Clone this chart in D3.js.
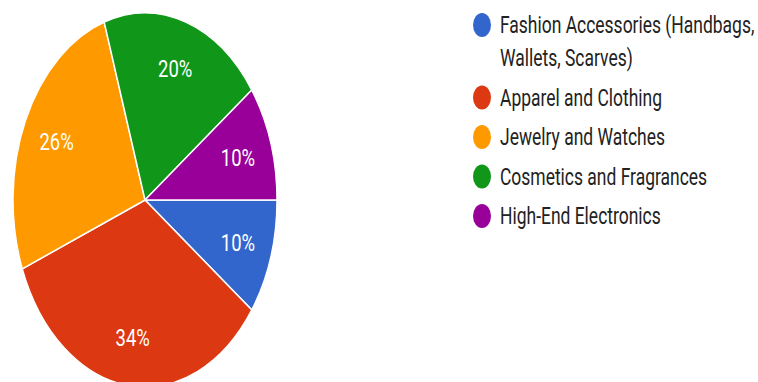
<!DOCTYPE html>
<html>
<head>
<meta charset="utf-8">
<script src="https://cdn.jsdelivr.net/npm/d3@7"></script>
<style>
  body { margin: 0; background: #fff; }
  svg { display: block; font-family: Roboto, Arial, sans-serif; }
</style>
</head>
<body>
<div id="chart"></div>
<script>
const categories = [
    "Fashion Accessories (Handbags, Wallets, Scarves)",
    "Apparel and Clothing",
    "Jewelry and Watches",
    "Cosmetics and Fragrances",
    "High-End Electronics"
];
const values = [10, 34, 26, 20, 10];
const colors = ["#3366cc", "#dc3912", "#ff9900", "#109618", "#990099"];

const width = 758, height = 382;
// the reference is squeezed horizontally
const sx = 0.706;
const cx = 145, cy = 200, r = 187;

const svg = d3.select("#chart").append("svg")
    .attr("width", width)
    .attr("height", height);

const data = categories.map((c, i) => ({ name: c, value: values[i], color: colors[i] }));

const pie = d3.pie()
    .value(d => d.value)
    .sort(null)
    .startAngle(Math.PI / 2)
    .endAngle(Math.PI / 2 + 2 * Math.PI);

const arcs = pie(data);
const total = d3.sum(values);

const arc = d3.arc().innerRadius(0).outerRadius(r);
const labelArc = d3.arc().innerRadius(r * 0.74).outerRadius(r * 0.74);

const g = svg.append("g")
    .attr("transform", `translate(${cx},${cy}) scale(${sx},1)`);

g.selectAll("path")
    .data(arcs)
    .enter()
    .append("path")
    .attr("d", arc)
    .attr("fill", d => d.data.color)
    .attr("stroke", "#fff")
    .attr("stroke-width", 1.5)
    .attr("vector-effect", "non-scaling-stroke");

g.selectAll("text.lbl")
    .data(arcs)
    .enter()
    .append("text")
    .attr("class", "lbl")
    .attr("transform", d => `translate(${labelArc.centroid(d)}) scale(1.09,1)`)
    .attr("text-anchor", "middle")
    .attr("dy", "0.36em")
    .attr("fill", "#fff")
    .attr("font-size", "24px")
    .text(d => Math.round(d.data.value / total * 100) + "%");

// legend
const legX = 482, textX = 500;
const textSx = 0.76;
const lineH = 33, itemGap = 39.5;
const maxW = 262;

const legend = svg.append("g");
let y = 25;

data.forEach(d => {
    const item = legend.append("g");
    item.append("ellipse")
        .attr("cx", legX)
        .attr("cy", y)
        .attr("rx", 9)
        .attr("ry", 12)
        .attr("fill", d.color);

    const t = item.append("text")
        .attr("transform", `translate(${textX},${y + 8}) scale(${textSx},1)`)
        .attr("font-size", "23px")
        .attr("fill", "#222");

    // wrap words
    const words = d.name.split(" ");
    let line = [];
    let lineNo = 0;
    let tspan = t.append("tspan").attr("x", 0).attr("y", 0);
    words.forEach(w => {
        line.push(w);
        tspan.text(line.join(" "));
        if (tspan.node().getComputedTextLength() * textSx > maxW && line.length > 1) {
            line.pop();
            tspan.text(line.join(" "));
            line = [w];
            lineNo++;
            tspan = t.append("tspan").attr("x", 0).attr("y", lineNo * lineH).text(w);
        }
    });
    y += lineNo * lineH + itemGap;
});
</script>
</body>
</html>
